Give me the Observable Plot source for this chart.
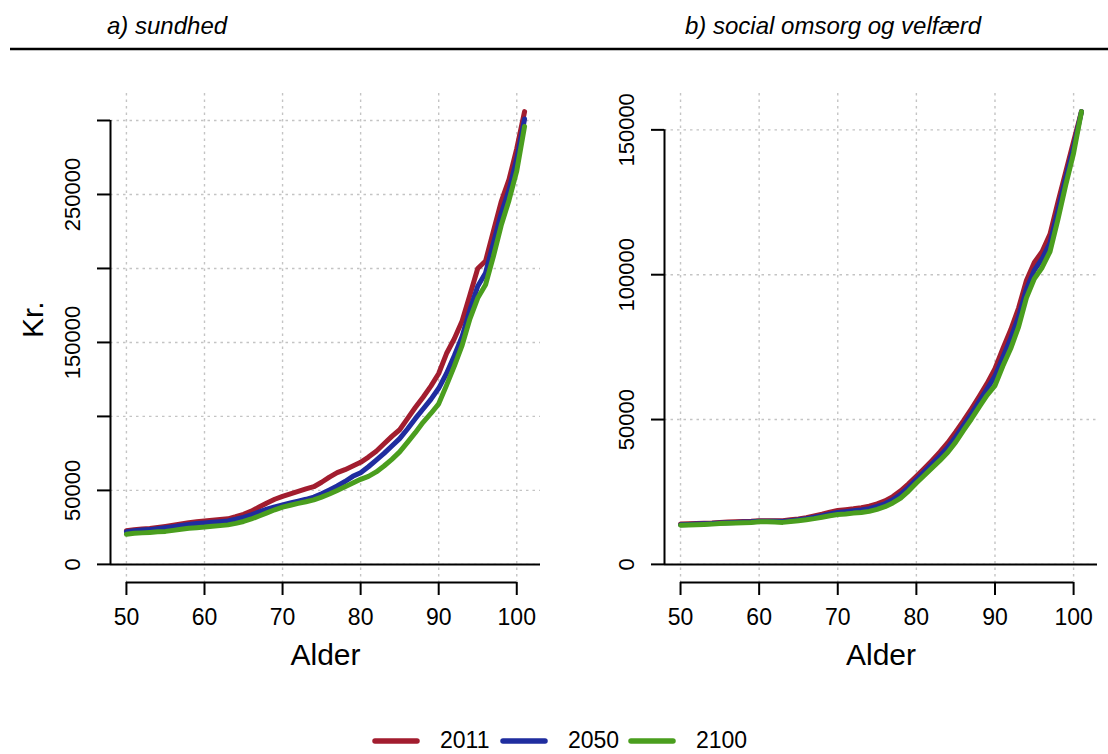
<!DOCTYPE html>
<html><head><meta charset="utf-8">
<script src="https://cdn.jsdelivr.net/npm/d3@7"></script>
<script src="https://cdn.jsdelivr.net/npm/@observablehq/plot@0.6"></script>
<style>
body{margin:0;background:#fff;}
#wrap{position:relative;width:1108px;height:754px;overflow:hidden;background:#fff;font-family:"Liberation Sans",Arial,sans-serif;}
#wrap .panel{position:absolute;top:0;}
#overlay{position:absolute;left:0;top:0;}
</style></head><body><div id="wrap"></div>
<script>
const ages = [50,51,52,53,54,55,56,57,58,59,60,61,62,63,64,65,66,67,68,69,70,71,72,73,74,75,76,77,78,79,80,81,82,83,84,85,86,87,88,89,90,91,92,93,94,95,96,97,98,99,100,101];
const years = ["2011","2050","2100"];
const colors = ["#a21d2f","#1f2d9f","#4a9e1e"];

// a) sundhed
const sundhed2011 = [22700,23500,24000,24300,25000,25700,26500,27300,28200,28800,
  29300,29800,30300,30800,32200,33800,36000,38800,41500,44000,
  46000,47700,49300,51000,52500,55500,59000,62000,64000,66500,
  69000,72500,76500,81500,86500,91000,98500,106000,113000,120500,
  129000,142500,152500,164500,182000,200000,205000,225000,245000,260000,
  281000,306000];
const sundhed2050 = [22000,22700,23200,23500,24100,24800,25500,26300,27000,27600,
  28000,28500,28900,29400,30500,31800,33500,35500,37300,38900,
  40200,41500,42800,44000,45500,47700,50300,53000,56000,59500,
  62000,66000,70500,75000,80000,85000,91500,98500,105000,111500,
  119000,129000,141000,154000,172000,188000,197000,217000,237000,253000,
  274000,301000];
const sundhed2100 = [20400,21000,21300,21600,22000,22300,23000,23700,24400,24800,
  25200,25800,26200,26700,27700,29000,30700,32700,34800,36900,
  38700,40000,41200,42300,43600,45500,47600,50000,52500,55000,
  57500,59500,62500,66500,71000,76000,82500,89000,96000,102000,
  108500,121000,134000,148000,166000,180000,189000,208000,229000,246000,
  266000,296000];

// b) social omsorg og velfærd
const social2011 = [13900,14000,14100,14200,14300,14500,14600,14700,14800,14900,
  15100,15100,15100,15100,15400,15700,16100,16700,17300,18000,
  18600,18900,19200,19600,20100,20900,21900,23400,25400,27800,
  30400,33100,35900,38800,42000,45700,49600,53700,58000,62500,
  67600,74500,81000,88500,98000,104200,108000,114000,125000,135500,
  146000,156300];
const social2050 = [13700,13800,13900,14000,14100,14300,14400,14500,14600,14700,
  14900,14900,14900,14800,15100,15400,15800,16300,16800,17400,
  17900,18200,18500,18800,19200,20000,20900,22300,24200,26600,
  29300,32000,34700,37400,40400,44000,48000,52000,56300,60600,
  65000,71500,78000,85500,95000,101500,105500,111000,122000,133500,
  144000,156300];
const social2100 = [13500,13600,13700,13800,13900,14100,14200,14300,14400,14500,
  14700,14700,14600,14500,14800,15100,15400,15800,16300,16800,
  17200,17400,17700,17900,18300,19000,19900,21200,22900,25300,
  28100,30700,33300,35900,38700,42200,46300,50200,54400,58400,
  61700,68500,74500,82000,92000,98600,102500,108000,119000,131000,
  142000,156300];

const panelTitles = ["a) sundhed", "b) social omsorg og velfærd"];
const xLabel = "Alder";
const yLabel = "Kr.";
const xTicks = [50,60,70,80,90,100];
const yTicksA = [0,50000,100000,150000,200000,250000,300000];
const yLabelsA = [0,50000,150000,250000];
const yTicksB = [0,50000,100000,150000];
const yLabelsB = [0,50000,100000,150000];

const FONT = '"Liberation Sans", Arial, Helvetica, sans-serif';

function toLong(series) {
  return years.flatMap((yr, k) => ages.map((a, i) => ({age: a, value: series[k][i], year: yr})));
}

function panel({data, yTicks, yLabels, ylab, marginLeft, marginRight}) {
  const ymax = d3.max(data, d => d.value);
  const pad = 0.04 * ymax;
  const xmin = d3.min(ages), xmax = d3.max(ages);
  const xpad = 0.04 * (xmax - xmin);
  const grid = {stroke: "#c4c4c4", strokeWidth: 1.4, strokeDasharray: "2.5,4"};
  return Plot.plot({
    width: 554, height: 700,
    marginTop: 93, marginBottom: 118, marginLeft, marginRight,
    x: {domain: [xmin - xpad, xmax + xpad]},
    y: {domain: [-pad, ymax + pad]},
    color: {domain: years, range: colors},
    style: {fontFamily: FONT, fontSize: "22px", color: "#000", background: "transparent", overflow: "visible"},
    marks: [
      Plot.ruleX(xTicks, grid),
      Plot.ruleY(yTicks, grid),
      Plot.ruleY([0], {stroke: "#000", strokeWidth: 2}),
      Plot.ruleX([xmin - xpad], {y1: yTicks[0], y2: yTicks[yTicks.length - 1], stroke: "#000", strokeWidth: 2}),
      Plot.ruleY([-pad], {x1: xTicks[0], x2: xTicks[xTicks.length - 1], stroke: "#000", strokeWidth: 2}),
      Plot.axisX({ticks: xTicks, tickSize: 13, tickPadding: 13, fontSize: 23, label: null, strokeWidth: 2, tickFormat: d => String(d)}),
      Plot.axisY({ticks: yTicks, tickSize: 13, tickFormat: () => "", label: null, strokeWidth: 2}),
      Plot.text(yLabels, {y: d => d, text: d => String(d), frameAnchor: "left", rotate: -90, dx: -38, fontSize: 22, lineAnchor: "middle", textAnchor: "middle"}),
      Plot.line(data, {x: "age", y: "value", stroke: "year", strokeWidth: 5, strokeLinecap: "round", strokeLinejoin: "round"}),
      Plot.text([xLabel], {frameAnchor: "bottom", dy: 73, fontSize: 30, lineAnchor: "middle"}),
      ylab ? Plot.text([ylab], {frameAnchor: "left", dx: -77, rotate: -90, fontSize: 30, lineAnchor: "middle"}) : null
    ]
  });
}

const wrap = document.getElementById("wrap");

const pA = panel({data: toLong([sundhed2011, sundhed2050, sundhed2100]), yTicks: yTicksA, yLabels: yLabelsA, ylab: yLabel, marginLeft: 110, marginRight: 14});
pA.classList.add("panel"); pA.style.left = "0px";
wrap.appendChild(pA);

const pB = panel({data: toLong([social2011, social2050, social2100]), yTicks: yTicksB, yLabels: yLabelsB, ylab: null, marginLeft: 110, marginRight: 11});
pB.classList.add("panel"); pB.style.left = "554px";
wrap.appendChild(pB);

// overlay: titles, rule, legend
const svg = d3.select(wrap).append("svg").attr("id", "overlay").attr("width", 1108).attr("height", 754)
  .style("font-family", FONT);
const titleX = [107, 685];
panelTitles.forEach((t, i) => {
  svg.append("text").attr("x", titleX[i]).attr("y", 34).attr("font-size", 24).attr("font-style", "italic").attr("fill", "#000").text(t);
});
svg.append("line").attr("x1", 10).attr("x2", 1108).attr("y1", 49).attr("y2", 49).attr("stroke", "#000").attr("stroke-width", 2.5);

years.forEach((yr, k) => {
  const x0 = 372 + k * 128;
  svg.append("line").attr("x1", x0 + 3).attr("x2", x0 + 45).attr("y1", 741).attr("y2", 741)
    .attr("stroke", colors[k]).attr("stroke-width", 5.5).attr("stroke-linecap", "round");
  svg.append("text").attr("x", x0 + 68).attr("y", 748).attr("font-size", 23).attr("fill", "#000").text(yr);
});
</script></body></html>
